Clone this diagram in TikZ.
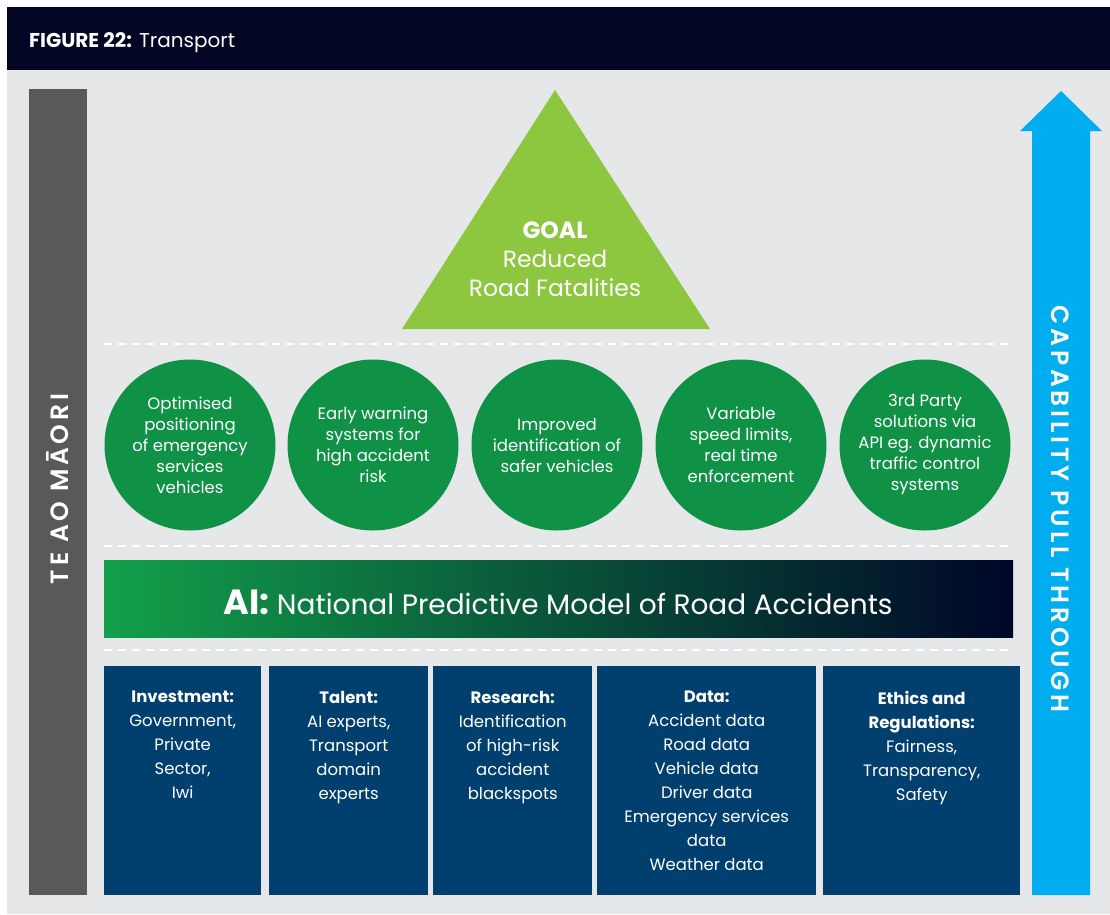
\documentclass[tikz,border=0pt]{standalone}
\usepackage{fontspec}
\setmainfont{Poppins}
\newfontfamily\spacedbold[LetterSpace=15]{Poppins SemiBold}
\usetikzlibrary{positioning,calc}

\definecolor{headnavy}{HTML}{020624}
\definecolor{panelgray}{HTML}{E6E7E9}
\definecolor{barslate}{HTML}{58595B}
\definecolor{pullblue}{HTML}{00AEEF}
\definecolor{goalgreen}{HTML}{8DC63F}
\definecolor{circgreen}{HTML}{0F9246}
\definecolor{pillarblue}{HTML}{003F6E}
\definecolor{aigreen}{HTML}{12A04A}
\definecolor{aiteal}{HTML}{006656}
\definecolor{aidark}{HTML}{000628}

\tikzset{
  outcome/.style={circle, fill=circgreen, minimum size=171pt, inner sep=0pt,
    text=white, align=center, font=\fontsize{16.5}{21}\selectfont},
  pillar/.style={rectangle, fill=pillarblue, inner sep=0pt, minimum height=229pt},
  pillartext/.style={anchor=north, inner sep=0pt, text=white, align=center,
    font=\fontsize{16.5}{24}\selectfont},
  sepline/.style={white, line width=2pt, dash pattern=on 8pt off 6pt},
}

\begin{document}
\begin{tikzpicture}[x=1pt, y=-1pt]
  \useasboundingbox (0,0) rectangle (1110,914);
  \fill[white] (0,0) rectangle (1110,914);

  % header and panel
  \fill[headnavy] (7,7) rectangle (1110,70);
  \node[anchor=base west, inner sep=0pt, text=white, font=\fontsize{20}{20}\selectfont]
    (title) at (29,47) {\textbf{FIGURE 22:} Transport};
  \fill[panelgray] (7,70) rectangle (1110,914);

  % side bars
  \fill[barslate] (29,89) rectangle (87,895);
  \node[rotate=90, text=white, font=\fontsize{25}{25}\spacedbold] (maori) at (58,489) {TE AO MĀORI};
  \fill[pullblue] (1032,895) -- (1032,131) -- (1020,131) -- (1061,91)
    -- (1102,131) -- (1090,131) -- (1090,895) -- cycle;
  \node[rotate=-90, text=white, font=\fontsize{25}{25}\spacedbold] (pull) at (1060,509) {CAPABILITY PULL THROUGH};

  % goal
  \fill[goalgreen] (555,90) -- (710,329) -- (402,329) -- cycle;
  \node[text=white, align=center, font=\fontsize{23.5}{29}\selectfont] (goal) at (555,259)
    {\textbf{GOAL}\\Reduced\\Road Fatalities};

  % separators
  \foreach \yy in {344,546,650}
    \draw[sepline] (104,\yy) -- (1012,\yy);

  % outcomes
  \node[outcome] (pos) at (190,445) {Optimised\\positioning\\of emergency\\services\\vehicles};
  \node[outcome] (warn) at (373,445) {Early warning\\systems for\\high accident\\risk};
  \node[outcome] (safe) at (557,445) {Improved\\identification of\\safer vehicles};
  \node[outcome] (speed) at (741,445) {Variable\\speed limits,\\real time\\enforcement};
  \node[outcome] (api) at (925,445) {3rd Party\\solutions via\\API eg. dynamic\\traffic control\\systems};

  % AI model
  \shade[left color=aigreen, middle color=aiteal, right color=aidark] (104,560) rectangle (1013,637);
  \node[text=white, font=\fontsize{28}{28}\selectfont] (model) at (558,602)
    {{\fontsize{35}{35}\selectfont\bfseries AI:} National Predictive Model of Road Accidents};

  % pillars
  \node[pillar, minimum width=157pt, anchor=north west] (inv) at (104,666) {};
  \node[pillar, minimum width=159pt, anchor=north west] (tal) at (269,666) {};
  \node[pillar, minimum width=159pt, anchor=north west] (res) at (433,666) {};
  \node[pillar, minimum width=219pt, anchor=north west] (dat) at (597,666) {};
  \node[pillar, minimum width=197pt, anchor=north west] (eth) at (823,666) {};

  \node[pillartext] at ([yshift=-25pt]inv.north) {\textbf{Investment:}\\Government,\\Private\\Sector,\\Iwi};
  \node[pillartext] at ([yshift=-25pt]tal.north) {\textbf{Talent:}\\AI experts,\\Transport\\domain\\experts};
  \node[pillartext] at ([yshift=-25pt]res.north) {\textbf{Research:}\\Identification\\of high-risk\\accident\\blackspots};
  \node[pillartext] at ([yshift=-25pt]dat.north) {\textbf{Data:}\\Accident data\\Road data\\Vehicle data\\Driver data\\Emergency services\\data\\Weather data};
  \node[pillartext] at ([yshift=-25pt]eth.north) {\textbf{Ethics and}\\\textbf{Regulations:}\\Fairness,\\Transparency,\\Safety};
\end{tikzpicture}
\end{document}
